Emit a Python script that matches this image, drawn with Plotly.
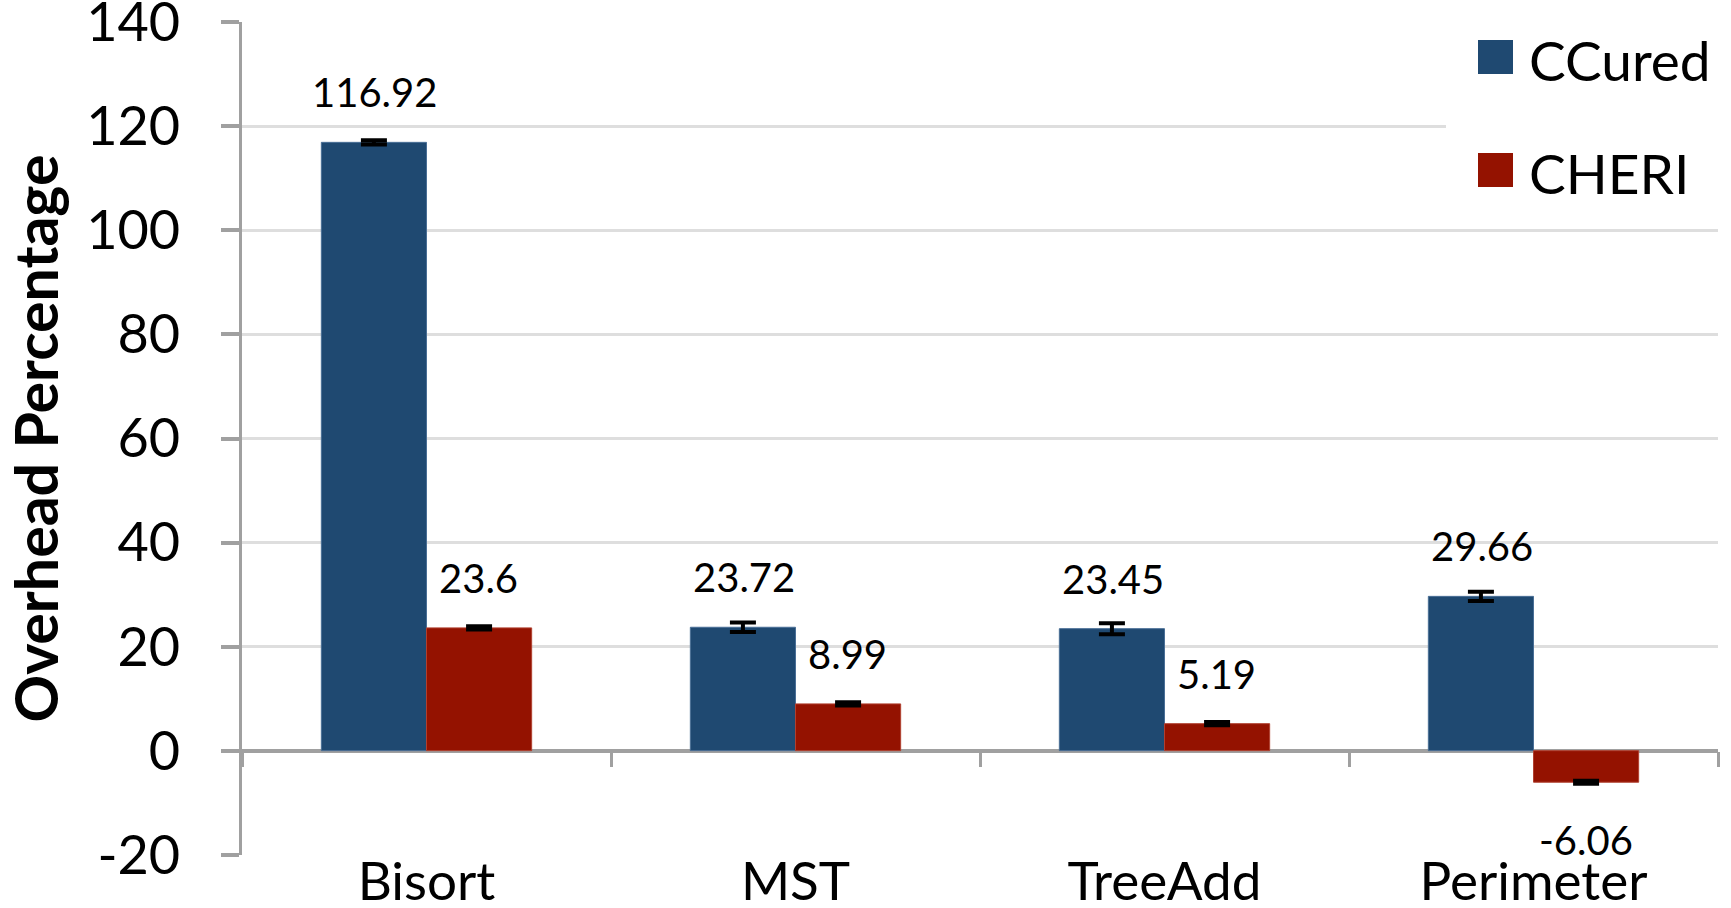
import plotly.graph_objects as go

categories = ["Bisort", "MST", "TreeAdd", "Perimeter"]
ccured = [116.92, 23.72, 23.45, 29.66]
cheri = [23.6, 8.99, 5.19, -6.06]
ccured_err = [0.4, 0.9, 1.05, 0.9]
cheri_err = [0.3, 0.3, 0.3, 0.3]
ccured_labels = ["116.92", "23.72", "23.45", "29.66"]
cheri_labels = ["23.6", "8.99", "5.19", "-6.06"]
y_ticks = [-20, 0, 20, 40, 60, 80, 100, 120, 140]
y_ticktext = ["-20", "0", "20", "40", "60", "80", "100", "120", "140"]
series_names = ["CCured", "CHERI"]

BLUE = "#1f4971"
RED = "#941200"
FONT = "Lato"

W, H = 1731, 908
ML, MR, MT, MB = 242, 13, 22, 53
PW, PH = W - ML - MR, H - MT - MB


def px_x(p):
    return (p - ML) / PW


def px_y(p):
    return (H - MB - p) / PH


fig = go.Figure()
fig.add_trace(go.Bar(
    name="CCured", x=categories, y=ccured, marker=dict(color=BLUE, line=dict(color="#4a6f96", width=1)),
    error_y=dict(type="data", array=ccured_err, color="black", thickness=4, width=13),
    showlegend=False,
))
fig.add_trace(go.Bar(
    name="CHERI", x=categories, y=cheri, marker=dict(color=RED, line=dict(color="#b04030", width=1)),
    error_y=dict(type="data", array=cheri_err, color="black", thickness=4, width=13),
    showlegend=False,
))

annotations = []
for c, v, t in zip(categories, ccured, ccured_labels):
    annotations.append(dict(x=c, y=v, text=t, xref="x", yref="y", showarrow=False,
                            xshift=-52, yshift=50 if v >= 0 else -58, yanchor="middle",
                            font=dict(family=FONT, size=40, color="black")))
for c, v, t in zip(categories, cheri, cheri_labels):
    annotations.append(dict(x=c, y=v, text=t, xref="x", yref="y", showarrow=False,
                            xshift=52, yshift=50 if v >= 0 else -58, yanchor="middle",
                            font=dict(family=FONT, size=40, color="black")))

# custom legend (large square swatches)
shapes = [dict(type="rect", xref="paper", yref="paper", x0=px_x(1446), x1=px_x(1731),
               y0=px_y(222), y1=px_y(0), fillcolor="white", line=dict(width=0), layer="above")]
for i, (name, col) in enumerate(zip(series_names, [BLUE, RED])):
    cy = 57 + i * 113
    shapes.append(dict(type="rect", xref="paper", yref="paper",
                       x0=px_x(1478), x1=px_x(1513), y0=px_y(cy + 17), y1=px_y(cy - 17),
                       fillcolor=col, line=dict(width=0), layer="above"))
    annotations.append(dict(x=px_x(1527), y=px_y(cy + 3), xref="paper", yref="paper", text=name,
                            showarrow=False, xanchor="left", yanchor="middle",
                            font=dict(family=FONT, size=55, color="black")))

fig.update_layout(
    width=W, height=H,
    margin=dict(l=ML, r=MR, t=MT, b=MB),
    plot_bgcolor="white", paper_bgcolor="white",
    barmode="group", bargap=0.43, bargroupgap=0,
    font=dict(family=FONT, color="black"),
    annotations=annotations,
    shapes=shapes,
    showlegend=False,
    xaxis=dict(
        type="category", categoryorder="array", categoryarray=categories,
        range=[-0.5, 3.5], showgrid=False, showline=False, ticks="", automargin=False,
        tickfont=dict(family=FONT, size=53, color="black"), ticklabelstandoff=-9,
        ticklabeloverflow="allow",
    ),
    xaxis2=dict(
        overlaying="x", anchor="free", position=0.125, range=[-0.5, 3.5],
        tickvals=[-0.5, 0.5, 1.5, 2.5, 3.5], ticks="outside", ticklen=15, tickwidth=3,
        tickcolor="#a0a0a0", showticklabels=False, showgrid=False, showline=False, zeroline=False,
        automargin=False,
    ),
    yaxis=dict(
        range=[-20.05, 140.05], tickvals=y_ticks, ticktext=y_ticktext,
        showgrid=True, gridcolor="#dedede", gridwidth=3,
        zeroline=True, zerolinecolor="#a0a0a0", zerolinewidth=4,
        showline=True, linecolor="#a0a0a0", linewidth=3,
        ticks="outside", ticklen=18, tickwidth=4, tickcolor="#a0a0a0",
        tickfont=dict(family=FONT, size=54, color="black"), ticklabelstandoff=30,
        ticklabeloverflow="allow", automargin=False,
        title=dict(text="<b>Overhead Percentage</b>", font=dict(family=FONT, size=59, color="black"), standoff=12),
    ),
)
fig.add_trace(go.Scatter(x=[0], y=[0], xaxis="x2", yaxis="y", mode="markers",
                         marker=dict(opacity=0), showlegend=False, hoverinfo="skip"))

fig.write_html("out.html", config={"displayModeBar": False},
               post_script="document.body.style.margin='0px';document.body.style.overflow='hidden';")
